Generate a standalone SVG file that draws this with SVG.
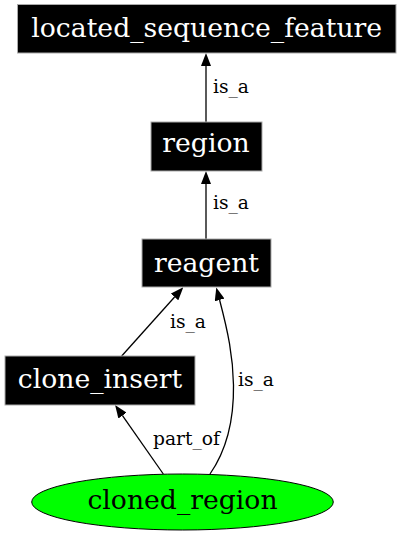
<svg xmlns="http://www.w3.org/2000/svg" width="400" height="536" viewBox="0 0 400 536">
<style>
.box{fill:#000;stroke:#aaa;stroke-width:1}
.ntext{font-family:"DejaVu Serif",serif;font-size:26.67px;fill:#fff;text-anchor:middle}
.etext{font-family:"DejaVu Serif",serif;font-size:18.67px;fill:#000}
.edge{fill:none;stroke:#000;stroke-width:1.3}
</style>
<defs>
<marker id="arr" viewBox="0 0 13 10" refX="0" refY="5" markerWidth="13" markerHeight="10" markerUnits="userSpaceOnUse" orient="auto">
<path d="M0,0 L13,5 L0,10 z" fill="#000"/>
</marker>
</defs>
<rect width="400" height="536" fill="#fff"/>
<g id="edges">
<path class="edge" d="M206,122 L206,66" marker-end="url(#arr)"/>
<text class="etext" x="213" y="93">is_a</text>
<path class="edge" d="M206,239 L206,184" marker-end="url(#arr)"/>
<text class="etext" x="213" y="209">is_a</text>
<path class="edge" d="M121.7,356 L174.6,297" marker-end="url(#arr)"/>
<text class="etext" x="170" y="328">is_a</text>
<path class="edge" d="M163.3,474 L122.5,415.6" marker-end="url(#arr)"/>
<text class="etext" x="153" y="445">part_of</text>
<path class="edge" d="M210,474 C226,451 234,420 233.5,385 C233,356 228,332 219.6,300" marker-end="url(#arr)"/>
<text class="etext" x="238" y="386">is_a</text>
</g>
<g id="located_sequence_feature">
<rect class="box" x="17.5" y="4.5" width="378.5" height="48.5"/>
<text class="ntext" x="206.7" y="37">located_sequence_feature</text>
</g>
<g id="region">
<rect class="box" x="151" y="122" width="111" height="49"/>
<text class="ntext" x="206" y="152">region</text>
</g>
<g id="reagent">
<rect class="box" x="142" y="239" width="129" height="48"/>
<text class="ntext" x="206.5" y="272">reagent</text>
</g>
<g id="clone_insert">
<rect class="box" x="5" y="356" width="190" height="49"/>
<text class="ntext" x="100" y="388">clone_insert</text>
</g>
<g id="cloned_region">
<ellipse cx="182.5" cy="502" rx="150.8" ry="28" fill="#00ff00" stroke="#000" stroke-width="1"/>
<text class="ntext" x="182.5" y="509" style="fill:#000">cloned_region</text>
</g>
</svg>
